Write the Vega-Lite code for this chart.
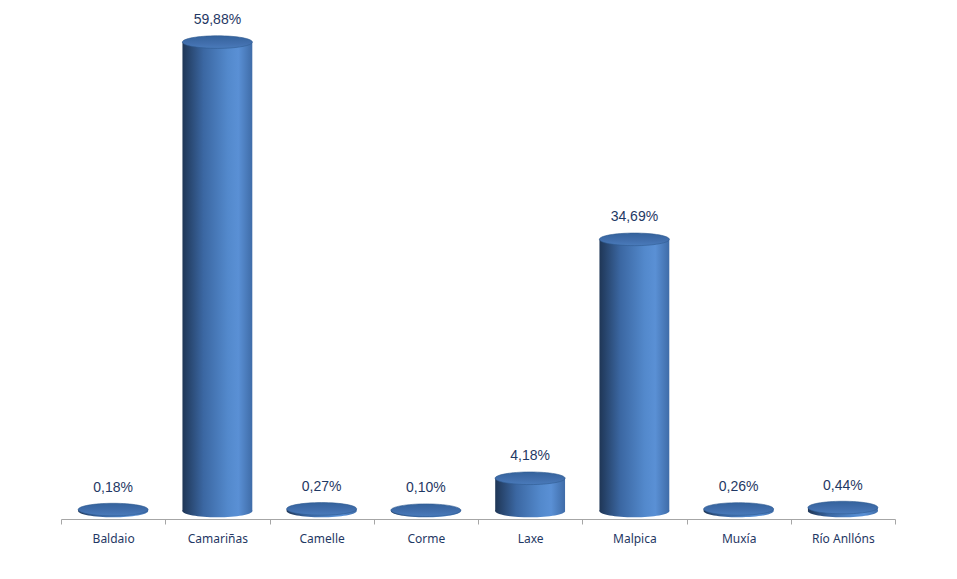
{
  "$schema": "https://vega.github.io/schema/vega-lite/v6.json",
  "autosize": "none",
  "width": 834,
  "height": 509,
  "padding": {"left": 61, "top": 2, "right": 62, "bottom": 68},
  "background": "white",
  "config": {"view": {"stroke": null}},
  "data": {
    "values": [
      {"puerto": "Baldaio", "pct": 0.18},
      {"puerto": "Camariñas", "pct": 59.88},
      {"puerto": "Camelle", "pct": 0.27},
      {"puerto": "Corme", "pct": 0.10},
      {"puerto": "Laxe", "pct": 4.18},
      {"puerto": "Malpica", "pct": 34.69},
      {"puerto": "Muxía", "pct": 0.26},
      {"puerto": "Río Anllóns", "pct": 0.44}
    ]
  },
  "encoding": {
    "x": {
      "field": "puerto",
      "type": "nominal",
      "sort": null,
      "scale": {"paddingInner": 0, "paddingOuter": 0},
      "axis": {
        "title": null,
        "labelAngle": 0,
        "tickBand": "extent",
        "offset": 8,
        "domainColor": "#a6a6a6",
        "tickColor": "#a6a6a6",
        "tickSize": 5,
        "labelPadding": 9,
        "labelFont": "Noto Sans",
        "labelFontSize": 12,
        "labelColor": "#1f3864"
      }
    },
    "y": {
      "field": "pct",
      "type": "quantitative",
      "scale": {"domain": [0, 65], "nice": false, "zero": true},
      "axis": null
    }
  },
  "layer": [
    {
      "mark": {
        "type": "bar",
        "width": {"band": 0.67},
        "color": {
          "gradient": "linear",
          "x1": 0, "y1": 0, "x2": 1, "y2": 0,
          "stops": [
            {"offset": 0, "color": "#1f3656"},
            {"offset": 0.3, "color": "#3b67a2"},
            {"offset": 0.65, "color": "#5389cc"},
            {"offset": 0.8, "color": "#5a90d5"},
            {"offset": 1, "color": "#3f6ca8"}
          ]
        }
      }
    },
    {
      "mark": {
        "type": "point",
        "filled": true,
        "shape": "M-1,0A1,0.18 0 1,0 1,0A1,0.18 0 1,0 -1,0Z",
        "size": 4900,
        "opacity": 1,
        "color": {
          "gradient": "linear",
          "x1": 0, "y1": 0, "x2": 1, "y2": 0,
          "stops": [
            {"offset": 0, "color": "#1f3656"},
            {"offset": 0.3, "color": "#3b67a2"},
            {"offset": 0.65, "color": "#5389cc"},
            {"offset": 0.8, "color": "#5a90d5"},
            {"offset": 1, "color": "#3f6ca8"}
          ]
        }
      },
      "encoding": {"y": {"datum": 0}}
    },
    {
      "mark": {
        "type": "point",
        "filled": true,
        "shape": "M-1,0A1,0.18 0 1,0 1,0A1,0.18 0 1,0 -1,0Z",
        "size": 4900,
        "opacity": 1,
        "stroke": "#2f5a91",
        "strokeWidth": 0.6,
        "color": {
          "gradient": "linear",
          "x1": 0, "y1": 0, "x2": 0, "y2": 1,
          "stops": [
            {"offset": 0, "color": "#34629c"},
            {"offset": 0.6, "color": "#426fad"},
            {"offset": 1, "color": "#4a7bbb"}
          ]
        }
      }
    },
    {
      "transform": [
        {"calculate": "replace(format(datum.pct, '.2f'), '.', ',') + '%'", "as": "label"}
      ],
      "mark": {
        "type": "text",
        "dy": -22,
        "baseline": "middle",
        "font": "Liberation Sans",
        "fontSize": 14,
        "color": "#1f3864"
      },
      "encoding": {"text": {"field": "label"}}
    }
  ]
}
